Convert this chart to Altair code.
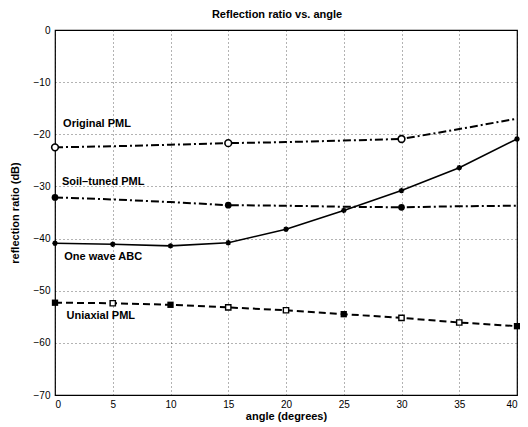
import altair as alt
import pandas as pd

angles = [0, 5, 10, 15, 20, 25, 30, 35, 40]

orig_pml = [-22.5, -22.3, -22.0, -21.7, -21.5, -21.2, -20.9, -19.0, -17.0]
orig_marker_angles = [0, 15, 30]
orig_marker_vals = [-22.5, -21.7, -20.9]

soil_pml = [-32.1, -32.5, -33.0, -33.6, -33.7, -33.9, -34.0, -33.8, -33.7]
soil_marker_angles = [0, 15, 30]
soil_marker_vals = [-32.1, -33.6, -34.0]

one_wave = [-40.9, -41.1, -41.4, -40.8, -38.2, -34.6, -30.8, -26.4, -20.9]

uniaxial = [-52.3, -52.4, -52.7, -53.2, -53.75, -54.5, -55.2, -56.1, -56.8]
uniaxial_filled = [True, False, True, False, False, True, False, False, True]

label_texts = ["Original PML", "Soil\u2013tuned PML", "One wave ABC", "Uniaxial PML"]
label_angles = [0.7, 0.6, 0.8, 1.0]
label_vals = [-18.0, -29.1, -43.5, -54.9]

x_ticks = [0, 5, 10, 15, 20, 25, 30, 35, 40]
y_ticks = [0, -10, -20, -30, -40, -50, -60, -70]

FONT = "Liberation Sans"

xs = alt.Scale(domain=[0, 40], nice=False)
ys = alt.Scale(domain=[-70, 0], nice=False)


def df(xv, yv, **extra):
    d = {"angle": xv, "val": yv}
    d.update(extra)
    return pd.DataFrame(d)


def enc(ch):
    return ch.encode(
        x=alt.X("angle:Q", scale=xs),
        y=alt.Y("val:Q", scale=ys),
    )


base_axes = alt.Chart(df(angles, orig_pml)).mark_line(opacity=0).encode(
    x=alt.X("angle:Q", scale=xs,
            axis=alt.Axis(values=x_ticks, title="angle (degrees)", grid=True,
                          gridDash=[1, 3], gridColor="#000", gridOpacity=0.6,
                          ticks=False, domain=False, labelFont=FONT, labelFontSize=10,
                          labelColor="#000", labelPadding=4,
                          titleFont=FONT, titleFontSize=11, titleFontWeight="bold",
                          titleColor="#000", titlePadding=1)),
    y=alt.Y("val:Q", scale=ys,
            axis=alt.Axis(values=y_ticks, title="reflection ratio (dB)", grid=True,
                          gridDash=[1, 3], gridColor="#000", gridOpacity=0.6,
                          ticks=False, domain=False, labelFont=FONT, labelFontSize=10,
                          labelColor="#000", labelPadding=5,
                          titleFont=FONT, titleFontSize=11, titleFontWeight="bold",
                          titleColor="#000", titleX=-40, titleY=182.5,
                          titleAngle=-90, titleBaseline="middle", titleAlign="center")),
)

l_orig = enc(alt.Chart(df(angles, orig_pml)).mark_line(color="#000", strokeWidth=2, strokeDash=[8, 3, 2, 3]))
m_orig = enc(alt.Chart(df(orig_marker_angles, orig_marker_vals)).mark_point(
    shape="circle", size=45, filled=False, color="#000", strokeWidth=1.6, fill="white", fillOpacity=1))

l_soil = enc(alt.Chart(df(angles, soil_pml)).mark_line(color="#000", strokeWidth=2, strokeDash=[8, 3, 2, 3]))
m_soil = enc(alt.Chart(df(soil_marker_angles, soil_marker_vals)).mark_point(
    shape="circle", size=45, filled=True, color="#000", opacity=1))

l_one = enc(alt.Chart(df(angles, one_wave)).mark_line(color="#000", strokeWidth=1.6))
star = "M-1,0L1,0M0,-1L0,1M-0.7,-0.7L0.7,0.7M-0.7,0.7L0.7,-0.7"
m_one = enc(alt.Chart(df(angles, one_wave)).mark_point(
    shape=star, size=30, filled=False, color="#000", strokeWidth=1.5, opacity=1))

l_uni = enc(alt.Chart(df(angles, uniaxial)).mark_line(color="#000", strokeWidth=2, strokeDash=[7, 4]))
uni_df = df(angles, uniaxial, filled=uniaxial_filled)
m_uni_f = enc(alt.Chart(uni_df).transform_filter("datum.filled").mark_point(
    shape="square", size=40, filled=True, color="#000", opacity=1))
m_uni_o = enc(alt.Chart(uni_df).transform_filter("!datum.filled").mark_point(
    shape="square", size=28, filled=False, color="#000", strokeWidth=1.4, fill="white", fillOpacity=1, opacity=1))

labels = alt.Chart(pd.DataFrame({"angle": label_angles, "val": label_vals, "t": label_texts})).mark_text(
    align="left", baseline="middle", font=FONT, fontSize=11, fontWeight="bold", color="#000"
).encode(x=alt.X("angle:Q", scale=xs), y=alt.Y("val:Q", scale=ys), text="t:N")

chart = alt.layer(
    base_axes, l_orig, l_soil, l_one, l_uni, m_orig, m_soil, m_one, m_uni_f, m_uni_o, labels
).properties(
    width=462, height=365,
    title=alt.TitleParams("Reflection ratio vs. angle", font=FONT, fontSize=11,
                          fontWeight="bold", color="#000", dx=-9, offset=5),
    autosize=alt.AutoSizeParams(type="none"),
    padding={"left": 47, "top": 22, "right": 3, "bottom": 32},
    background="white",
).configure_view(stroke="#000", strokeWidth=1.2)

chart.save("out.html", embed_options={"renderer": "svg", "actions": False})
